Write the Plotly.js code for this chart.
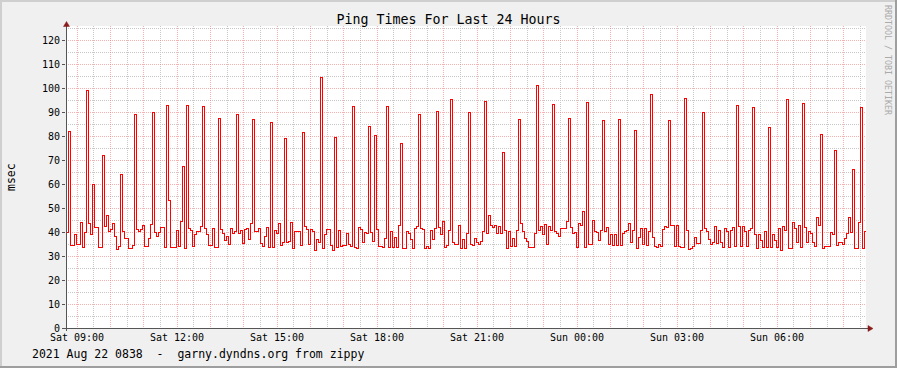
<!DOCTYPE html>
<html><head><meta charset="utf-8">
<script src="https://cdn.plot.ly/plotly-3.0.1.min.js"></script>
<style>
html,body{margin:0;padding:0;background:#f0f0f0;}
#wrap{position:relative;width:897px;height:368px;overflow:hidden;}
#chart{position:absolute;left:0;top:0;width:897px;height:368px;}
#chart .scatterlayer path.js-line{shape-rendering:crispEdges !important;}
.b{position:absolute;}
</style></head><body>
<div id="wrap"><div id="chart"></div>
<div class="b" style="left:0;top:0;width:897px;height:2px;background:#cfcfcf"></div>
<div class="b" style="left:0;top:0;width:2px;height:368px;background:#cfcfcf"></div>
<div class="b" style="left:0;top:366px;width:897px;height:2px;background:#9e9e9e"></div>
<div class="b" style="left:895px;top:0;width:2px;height:368px;background:#9e9e9e"></div>
</div>
<script>
const chartTitle = 'Ping Times For Last 24 Hours';
const yTitle = 'msec';
const footer = '2021 Aug 22 0838  -  garny.dyndns.org from zippy';
const watermark = 'RRDTOOL / TOBI OETIKER';
const startTime = '2021-08-21T08:40:12Z';
const endTime = '2021-08-22T08:40:12Z';
const stepSeconds = 216;
const labelTimes = ['2021-08-21T09:00:00Z','2021-08-21T12:00:00Z','2021-08-21T15:00:00Z','2021-08-21T18:00:00Z','2021-08-21T21:00:00Z','2021-08-22T00:00:00Z','2021-08-22T03:00:00Z','2021-08-22T06:00:00Z'];
const labelTexts = ['Sat 09:00','Sat 12:00','Sat 15:00','Sat 18:00','Sat 21:00','Sun 00:00','Sun 03:00','Sun 06:00'];
const pingMs = [
40,82,34.5,34.5,39,35,35,44,33.5,39.7,99,43.6,38.8,60,42,42,33.5,33.5,71.7,42.5,
46.7,40.4,41.2,43.6,38,32.8,33.9,64,40.3,37.4,37.4,33.3,33.3,34.5,89,41,40.4,41,42.9,34,
34,37.4,43.3,89.9,40,38,40,42,42,33.5,92.8,53.3,33.6,33.6,33.6,40.8,34,44.4,67.5,33.2,
92.9,41.5,40.6,33.9,38.8,40.4,40.4,42.5,92.5,41.3,38.8,34.5,34.5,41.5,33.5,33.5,87.4,41.1,39.4,36.3,
38,35,41.5,39.4,40.1,89,39.4,40.8,35.3,41.1,41.5,36.9,43.6,87,40.4,40.4,41.5,35.3,33.9,38,
41.8,33.5,85.7,33.5,40.8,39.4,43.6,34.2,35.6,79,35.6,36,44,33.2,40.4,40.4,40.4,34.3,81.5,42.5,
41,35,41,40.4,32.5,36.7,35.6,104.4,33,39,41,41,34.2,32.5,79.4,33.6,40.6,33.9,34.4,34.4,
39.4,35,33.9,92.5,33.6,33,42,41,35.6,39.7,39.4,83.9,40,36,80.4,41,33.9,33.9,33.5,37.4,
92.5,33.5,40.4,33.5,37.8,33.5,42.8,76.7,33,33,40.4,39.4,36.7,33,41.5,42.2,89,41.5,41,33.2,
33.9,33.2,40.8,36.7,41.5,90.4,42,38.8,44.3,33.6,34.2,40.8,95.3,35.6,35,35,42.6,33.2,36.7,33.2,
39.4,90,34.8,34.2,37.4,35.6,35,36,40.4,94.2,39.4,47,42.6,41.9,42.8,39.4,42.5,39.4,73,40.8,
33.2,40.4,33.9,37.2,33.9,40.8,87,43.6,40.1,37.4,36,33.6,33.6,33.6,39.4,101,40.8,42.5,38.8,43.3,
35,42.5,40.8,93.2,40.3,39.4,38.3,41.5,41.5,41.5,44.3,87.4,42,39.4,39.7,33.6,43.6,42.9,48.5,33.6,
94,34.6,34.6,45,40.1,40,36.3,40.8,86.3,40.1,41.9,34.6,38.8,34.4,39,34.4,86.7,34.4,39.4,40.1,
40.8,43.6,35.6,40.6,82.5,33.2,37.8,41.5,34.6,41.5,34.2,40.1,97.4,37.8,33.9,33.6,35,33.9,41,42.2,
42,86.3,42.6,42.6,34,42.6,34,33.6,33.6,95.7,40.8,32.8,33.2,33.9,37.8,35.3,35.3,40.8,89.9,41.5,
40.1,36.7,35,35.7,42.5,35.4,40.8,35.7,33.6,41.5,40.1,33.6,40.8,41.9,34,92.8,42.2,33.9,42.1,40.4,
34,40.6,41.5,92,38.8,33.2,38.8,36.4,33.5,40.4,33.5,83.6,33.6,38.8,36.4,33.6,41.5,32.5,42.2,40.8,
95.3,33.2,33.2,44,41.5,35.6,42.8,33.6,93.6,41.9,35.6,40.1,39.4,35.6,33.9,46,42.8,80.7,33,33.9,
33.9,33.9,39.8,38.8,74,34.2,35.7,35.7,35,37.4,39.4,46,40,66,33.2,33.2,44,92,33,40.4
];

const fmt = ms => new Date(ms).toISOString().slice(0,19).replace('T',' ');
const t0 = Date.parse(startTime), t1 = Date.parse(endTime);
const xs = pingMs.map((v,i) => fmt(t0 + i*stepSeconds*1000));
const ys = pingMs.slice();
xs.push(fmt(t1)); ys.push(pingMs[pingMs.length-1]);

const HOUR = 3600000;
const firstHour = Date.parse(labelTimes[0]);
const majorVals = [], majorText = [], minorVals = [];
for (let t = firstHour; t <= t1; t += HOUR) {
  majorVals.push(fmt(t));
  const k = labelTimes.findIndex(s => Date.parse(s) === t);
  majorText.push(k >= 0 ? labelTexts[k] : '');
  if (t + HOUR/2 <= t1) minorVals.push(fmt(t + HOUR/2));
}

const W = 800, H = 302;
const px = p => (p - 66) / W;      // container px -> paper x
const py = p => (328 - p) / H;     // container px -> paper y
const axisCol = '#555555', arrowCol = '#8b1a1a';
const majorGrid = 'rgba(240,100,100,0.5)', minorGrid = '#c8c8c8';

const trace = {
  x: xs, y: ys, type: 'scatter', mode: 'lines',
  line: {shape: 'hv', color: '#ff0000', width: 1},
  hoverinfo: 'skip'
};

const layout = {
  width: 897, height: 368,
  paper_bgcolor: '#f0f0f0', plot_bgcolor: '#ffffff',
  margin: {l: 66, r: 31, t: 26, b: 40, pad: 0},
  showlegend: false,
  font: {family: 'DejaVu Sans Mono, monospace', size: 10, color: '#000'},
  title: {text: chartTitle, font: {family: 'DejaVu Sans Mono, monospace', size: 13.3, color: '#000'},
          x: 0.5, xref: 'container', xanchor: 'center', y: 1 - 19/368, yref: 'container', yanchor: 'middle'},
  xaxis: {
    type: 'date', range: [fmt(t0), fmt(t1)], fixedrange: true,
    tickmode: 'array', tickvals: majorVals, ticktext: majorText,
    showgrid: true, gridcolor: majorGrid, griddash: '1px,1px', gridwidth: 1,
    ticks: '', showline: false, zeroline: false, ticklabelstandoff: 2,
    tickfont: {size: 10, color: '#000'},
    minor: {tickmode: 'array', tickvals: minorVals, showgrid: true, gridcolor: minorGrid, griddash: '1px,1px', ticks: ''}
  },
  yaxis: {
    range: [0, H/2.4], fixedrange: true,
    tickmode: 'linear', tick0: 0, dtick: 10,
    showgrid: true, gridcolor: majorGrid, griddash: '1px,1px', gridwidth: 1,
    ticks: 'outside', ticklen: 3, tickcolor: axisCol, tickwidth: 1,
    showline: false, zeroline: false,
    tickfont: {size: 10, color: '#000'},
    minor: {tick0: 0, dtick: 5, showgrid: true, gridcolor: minorGrid, griddash: '1px,1px', ticks: ''}
  },
  shapes: [
    {type: 'line', xref: 'paper', yref: 'paper', x0: px(63), x1: px(869), y0: py(328.5), y1: py(328.5), line: {color: axisCol, width: 1}},
    {type: 'line', xref: 'paper', yref: 'paper', x0: px(66.5), x1: px(66.5), y0: py(331), y1: py(25), line: {color: axisCol, width: 1}},
    {type: 'path', xref: 'paper', yref: 'paper', fillcolor: arrowCol, line: {color: arrowCol, width: 0.5},
     path: `M ${px(873)} ${py(328.5)} L ${px(868)} ${py(325.5)} L ${px(868)} ${py(331.5)} Z`},
    {type: 'path', xref: 'paper', yref: 'paper', fillcolor: arrowCol, line: {color: arrowCol, width: 0.5},
     path: `M ${px(66.5)} ${py(21.5)} L ${px(63.5)} ${py(26.5)} L ${px(69.5)} ${py(26.5)} Z`}
  ],
  annotations: [
    {text: yTitle, xref: 'paper', yref: 'paper', x: px(11), y: py(177), xanchor: 'center', yanchor: 'middle',
     textangle: -90, showarrow: false, font: {size: 11.5, color: '#000'}},
    {text: footer.replace(/ /g, '&nbsp;'), xref: 'paper', yref: 'paper', x: px(30), y: py(354), xanchor: 'left', yanchor: 'middle',
     showarrow: false, font: {size: 11.5, color: '#000'}},
    {text: watermark, xref: 'paper', yref: 'paper', x: px(888), y: py(60), xanchor: 'center', yanchor: 'middle',
     textangle: 90, showarrow: false, font: {size: 8.3, color: '#aaaaaa'}}
  ]
};

Plotly.newPlot('chart', [trace], layout, {displayModeBar: false, staticPlot: true});
</script>
</body></html>
